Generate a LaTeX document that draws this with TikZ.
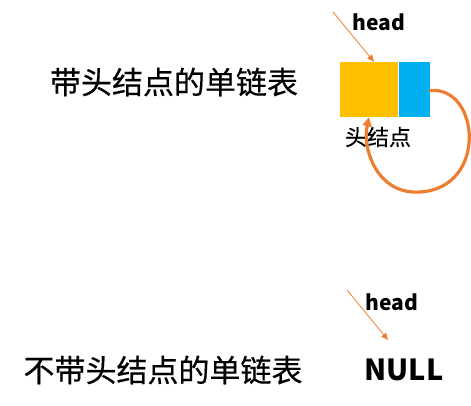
\documentclass[tikz,border=0pt]{standalone}
\usepackage{fontspec}
\setmainfont{Noto Sans CJK SC}
\newfontfamily\cjkheavy[FakeBold=0.4]{Noto Sans CJK SC}
\usetikzlibrary{arrows.meta}
\definecolor{cyel}{HTML}{FFC000}
\definecolor{cblue}{HTML}{00B0F0}
\definecolor{corange}{HTML}{ED7D31}
\tikzset{
  lbl/.style={inner sep=0pt, font=\cjkheavy\fontsize{#1}{#1}\selectfont},
  blbl/.style={inner sep=0pt, font=\fontsize{#1}{#1}\selectfont\bfseries},
  cell/.style={draw=none, inner sep=0pt, minimum height=55pt},
  thinarrow/.style={corange, line width=0.8pt, -{Triangle[length=7pt,width=6pt]}},
  thickarrow/.style={corange, line width=3.2pt, line cap=round, -{Triangle[length=9pt,width=9pt]}}
}
\begin{document}
\begin{tikzpicture}[x=1pt,y=-1pt]
\useasboundingbox (0,0) rectangle (471,406);
% top part
\node[lbl=31] (t1) at (174,82) {带头结点的单链表};
\node[cell, fill=cyel, minimum width=58pt] (yel) at (369,89.5) {};
\node[cell, fill=cblue, minimum width=31pt] (blu) at (414.5,89.5) {};
\node[blbl=21] (head1) at (379,22) {head};
\node[lbl=22] (hn) at (378,137) {头结点};
\coordinate (h1s) at (333,12);
\draw[thinarrow] (h1s) -- ([xshift=5pt]yel.north);
\draw[thickarrow] ([yshift=-1pt]blu.east) .. controls (480,86) and (488,188) .. (420,192)
  .. controls (378,195) and (362,150) .. ([xshift=0pt]yel.south);
% bottom part
\node[lbl=31] (t2) at (163,370) {不带头结点的单链表};
\node[blbl=21] (head2) at (392,302) {head};
\node[blbl=29] (null) at (404,370) {NULL};
\coordinate (h2s) at (347,290);
\coordinate (h2e) at (388,340);
\draw[thinarrow] (h2s) -- (h2e);
\end{tikzpicture}
\end{document}
